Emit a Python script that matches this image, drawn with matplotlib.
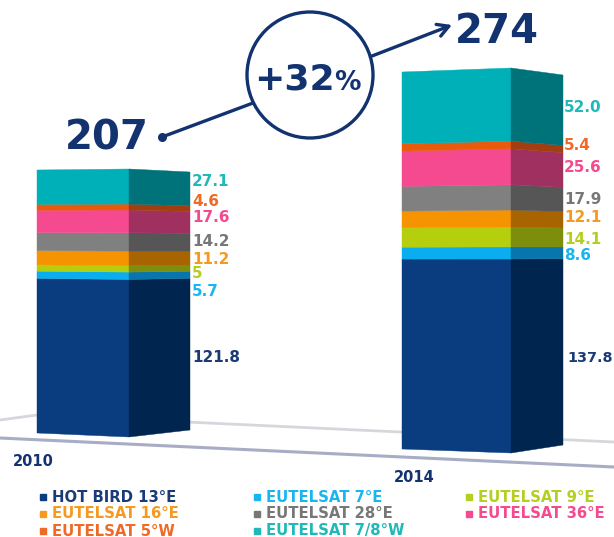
import matplotlib
matplotlib.use("Agg")
import matplotlib.pyplot as plt
from matplotlib.patches import Polygon, Circle
import numpy as np

# ---- data
years = ["2010", "2014"]
series = ["HOT BIRD 13°E", "EUTELSAT 7°E", "EUTELSAT 9°E", "EUTELSAT 16°E",
          "EUTELSAT 28°E", "EUTELSAT 36°E", "EUTELSAT 5°W", "EUTELSAT 7/8°W"]
values_2010 = [121.8, 5.7, 5, 11.2, 14.2, 17.6, 4.6, 27.1]
values_2014 = [137.8, 8.6, 14.1, 12.1, 17.9, 25.6, 5.4, 52.0]
labels_2010 = ["121.8", "5.7", "5", "11.2", "14.2", "17.6", "4.6", "27.1"]
labels_2014 = ["137.8", "8.6", "14.1", "12.1", "17.9", "25.6", "5.4", "52.0"]
totals = ["207", "274"]
growth = "+32"

# ---- styles
front = ["#0a3c80", "#0aaeef", "#b5cf0f", "#f59300", "#808080", "#f64a90", "#e85a0c", "#00b0b9"]
side = ["#00264f", "#0876ad", "#7c8e0c", "#a86400", "#565656", "#a03060", "#a33e10", "#00737a"]
text_col = ["#1b3a78", "#19b5f1", "#b5cf20", "#f59a1e", "#777777", "#f64a90", "#ee6a26", "#20b8b8"]
navy = "#12336f"
FONT = "DejaVu Sans"

# ---- layout: pixel geometry of each 3-D bar (x of left/edge/right, y bottom & top)
bars = [
    dict(x=(37, 129, 190), bottom=(433, 437, 430), top=(170, 169, 172), vals=values_2010,
         labs=labels_2010, lab_x=[192] * 8, lab_y=[358, 292, 273, 259, 242, 218, 202, 182], fs=[11] * 8),
    dict(x=(402, 511, 563), bottom=(449, 453, 445), top=(72, 68, 75), vals=values_2014,
         labs=labels_2014, lab_x=[567, 564, 564, 564, 564, 564, 564, 564],
         lab_y=[358, 256, 239, 218, 199, 167, 145, 107], fs=[10.4] + [11] * 7),
]

fig = plt.figure(figsize=(6.14, 5.37), dpi=100, facecolor="white")
ax = fig.add_axes([0, 0, 1, 1])
ax.set_xlim(0, 614)
ax.set_ylim(537, 0)
ax.axis("off")

# floor
ax.plot([0, 37, 614], [420, 415, 442], color="#d6d7dc", lw=2, zorder=1)
ax.plot([0, 614], [438, 467], color="#a8acc4", lw=2.2, zorder=1)

# bars
for b in bars:
    xl, xm, xr = b["x"]
    cum = np.concatenate([[0], np.cumsum(b["vals"])])
    frac = cum / cum[-1]
    ys = [np.array(bo) + (np.array(to) - np.array(bo)) * frac for bo, to in zip(b["bottom"], b["top"])]
    for i in range(len(b["vals"])):
        ax.add_patch(Polygon([(xl, ys[0][i]), (xm, ys[1][i]), (xm, ys[1][i + 1]), (xl, ys[0][i + 1])],
                             closed=True, fc=front[i], ec=front[i], lw=0.3, zorder=3))
        ax.add_patch(Polygon([(xm, ys[1][i]), (xr, ys[2][i]), (xr, ys[2][i + 1]), (xm, ys[1][i + 1])],
                             closed=True, fc=side[i], ec=side[i], lw=0.3, zorder=3))
        ax.text(b["lab_x"][i], b["lab_y"][i], b["labs"][i], color=text_col[i], fontsize=b["fs"][i],
                fontweight="bold", family=FONT, va="center", ha="left", zorder=5)

# years
ax.text(13, 461, years[0], color=navy, fontsize=10.5, fontweight="bold", family=FONT, va="center")
ax.text(394, 478, years[1], color=navy, fontsize=10.5, fontweight="bold", family=FONT, va="center")

# totals
ax.text(65, 138, totals[0], color=navy, fontsize=29, fontweight="bold", family=FONT, va="center")
ax.text(455, 32, totals[1], color=navy, fontsize=29, fontweight="bold", family=FONT, va="center")

# growth bubble
ax.add_patch(Circle((310, 75), 63, fc="white", ec=navy, lw=2.4, zorder=4))
ax.text(254, 79, growth, color=navy, fontsize=26, fontweight="bold", family=FONT, va="center", zorder=5)
ax.text(334, 83, "%", color=navy, fontsize=19, fontweight="bold", family=FONT, va="center", zorder=5)
ax.plot([162, 253], [137, 103], color=navy, lw=2.4, zorder=3, solid_capstyle="round")
ax.plot([162], [137], "o", color=navy, ms=5.5, zorder=3)
ax.annotate("", xy=(452, 25), xytext=(372, 56), zorder=3,
            arrowprops=dict(arrowstyle="->,head_length=0.8,head_width=0.45", color=navy, lw=2.4,
                            shrinkA=0, shrinkB=0))

# legend
col_x = [43, 257, 469]
row_y = [497, 514, 531]
for i, name in enumerate(series):
    c, r = i % 3, i // 3
    ax.plot([col_x[c]], [row_y[r]], "s", color=text_col[i] if i else front[0], ms=4.5, zorder=5)
    ax.text(col_x[c] + 9, row_y[r], name, color=text_col[i], fontsize=10.7, fontweight="bold",
            family=FONT, va="center", ha="left", zorder=5)

fig.savefig("out.png", dpi=100)
